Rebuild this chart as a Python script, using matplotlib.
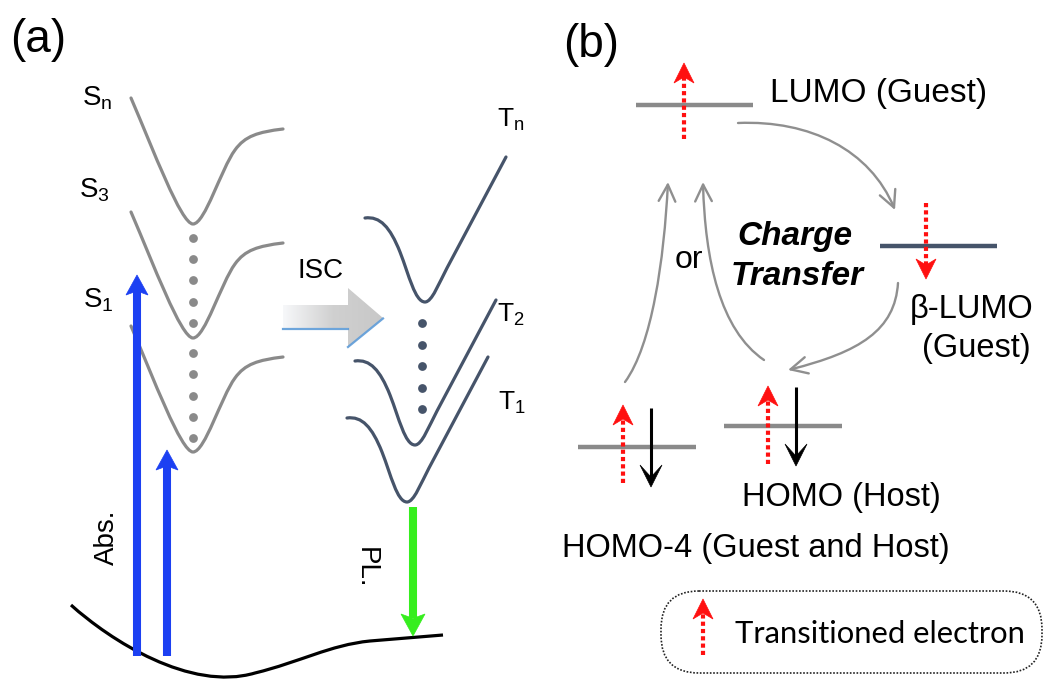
import matplotlib.pyplot as plt
from matplotlib.path import Path
from matplotlib.patches import PathPatch, Polygon, FancyArrowPatch, FancyBboxPatch
from matplotlib.colors import LinearSegmentedColormap
import numpy as np

plt.rcParams['font.family'] = ['Liberation Sans', 'DejaVu Sans']
plt.rcParams['mathtext.fontset'] = 'custom'
plt.rcParams['mathtext.rm'] = 'Liberation Sans'
plt.rcParams['mathtext.it'] = 'Liberation Sans:italic'

# ---- panel (a): excited-state wells (canvas pixel units, y downwards)
singlet_labels = [r'$\mathregular{S_n}$', r'$\mathregular{S_3}$', r'$\mathregular{S_1}$']
singlet_label_xy = [(82, 106), (79, 198), (83, 308)]
singlet_min = [(193, 224), (193, 338), (193, 452)]
singlet_dot_y = [238, 259, 280, 302, 323, 353, 374, 396, 417, 438]

triplet_labels = [r'$\mathregular{T_n}$', r'$\mathregular{T_2}$', r'$\mathregular{T_1}$']
triplet_label_xy = [(497, 127), (497, 322), (498, 410)]
triplet_min = [(425, 302), (415, 445), (407, 502)]
triplet_dot_y = [323, 345, 366, 388, 409]

abs_x = [137, 167]
abs_tip = [275, 450]
abs_tail = [656, 656]
pl_x, pl_top, pl_tip = 413, 507, 636

# ---- panel (b): orbital levels (x0, x1, y)
lumo = (636, 753, 105)
beta_lumo = (880, 997, 246)
homo4 = (578, 696, 447)
homo = (724, 842, 426)

# transitioned electrons (x, tail, tip) and paired electrons (x, tail, tip)
red_spins = [(684, 139, 63), (926, 203, 279), (623, 483, 405), (768, 464, 386)]
black_spins = [(651, 408, 487), (796, 387, 466)]

GRAY = '#8a8a8a'
SLATE = '#46546a'

# well shapes relative to the minimum, cubic bezier control points
S_SHAPE = [(-62, -126), (-40, -75), (-12, 0), (0, 0), (12, 0), (28, -55), (42, -74),
           (52, -88), (65, -92), (90, -95)]
S_CODES = [Path.MOVETO] + [Path.CURVE4] * 9
T_SHAPE = [(-60, -84), (-45, -86), (-35, -75), (-25, -50), (-16, -27), (-10, 0), (0, 0),
           (7, 0), (14, -19), (22, -34), (81, -145)]
T_CODES = [Path.MOVETO] + [Path.CURVE4] * 9 + [Path.LINETO]


def well(ax, mx, my, shape, codes, color):
    verts = [(mx + dx, my + dy) for dx, dy in shape]
    ax.add_patch(PathPatch(Path(verts, codes), fill=False, ec=color, lw=2.3,
                           capstyle='round', joinstyle='round'))


def arrow(ax, x, tail, tip, color, lw, head_w, head_l, notch, ls='-'):
    sgn = 1 if tail > tip else -1
    back = tip + sgn * head_l
    notch_y = tip + sgn * head_l * (1 - notch)
    if ls == '-':
        ax.plot([x, x], [tail, notch_y], color=color, lw=lw, solid_capstyle='butt')
    else:
        ax.plot([x, x], [tail, notch_y], color=color, lw=lw, ls=ls, dash_capstyle='butt')
    ax.add_patch(Polygon([(x, tip), (x - head_w / 2, back), (x, notch_y), (x + head_w / 2, back)],
                         closed=True, fc=color, ec=color, lw=0.5))


def red_arrow(ax, x, tail, tip):
    arrow(ax, x, tail, tip, '#ff1010', 3.0, 20, 20, 0.3, ls=(0, (1.0, 0.75)))


def curved(ax, verts):
    codes = [Path.MOVETO, Path.CURVE4, Path.CURVE4, Path.CURVE4]
    ax.add_patch(FancyArrowPatch(path=Path(verts, codes), arrowstyle='->,head_length=1.2,head_width=0.6',
                                 mutation_scale=10, color='#8f8f8f', lw=1.7, shrinkA=0, shrinkB=0))


fig = plt.figure(figsize=(10.45, 6.79), dpi=100)
ax = fig.add_axes([0, 0, 1, 1])

# panel (a)
ax.text(10, 40, '(a)', fontsize=33, va='center', ha='left')
for (mx, my), lab, (lx, ly) in zip(singlet_min, singlet_labels, singlet_label_xy):
    well(ax, mx, my, S_SHAPE, S_CODES, GRAY)
    ax.text(lx, ly, lab, fontsize=20, ha='left', va='baseline')
ax.scatter([singlet_min[0][0]] * len(singlet_dot_y), singlet_dot_y, s=40, color=GRAY, lw=0, zorder=3)

for (mx, my), lab, (lx, ly) in zip(triplet_min, triplet_labels, triplet_label_xy):
    well(ax, mx, my, T_SHAPE, T_CODES, SLATE)
    ax.text(lx, ly, lab, fontsize=19, ha='left', va='baseline')
ax.scatter([422] * len(triplet_dot_y), triplet_dot_y, s=40, color=SLATE, lw=0, zorder=3)

# ground state
ground = Path([(71, 605), (110, 640), (190, 692), (255, 673), (300, 662), (330, 645), (370, 641), (443, 635)],
              [Path.MOVETO] + [Path.CURVE4] * 6 + [Path.LINETO])
ax.add_patch(PathPatch(ground, fill=False, ec='black', lw=2.3))

for x, tail, tip in zip(abs_x, abs_tail, abs_tip):
    arrow(ax, x, tail, tip, '#1c40f2', 5.8, 22, 20, 0.2)
ax.text(107, 537, 'Abs.', fontsize=20, rotation=90, ha='center', va='center')

arrow(ax, pl_x, pl_top, pl_tip, '#36ee1e', 5.8, 24, 22, 0.2)
ax.text(366, 568, 'PL.', fontsize=20, rotation=-90, ha='center', va='center')

# intersystem crossing block arrow with gradient fill
isc = [(283, 305), (348, 305), (348, 288), (383, 318), (348, 347), (348, 328), (283, 328)]
isc_patch = Polygon(isc, closed=True, fc='none', ec='none')
ax.add_patch(isc_patch)
grad = np.linspace(0, 1, 256).reshape(1, -1)
cmap = LinearSegmentedColormap.from_list('isc', ['#f7f8fa', '#d0d0d0', '#c8c8c8'])
img = ax.imshow(grad, extent=(283, 383, 347, 288), cmap=cmap, aspect='auto', zorder=2)
img.set_clip_path(isc_patch)
ax.plot([283, 348], [328.5, 328.5], color='#5d9bd8', lw=1.6, alpha=0.9, zorder=3)
ax.plot([348, 383], [347, 318.5], color='#5d9bd8', lw=1.6, alpha=0.9, zorder=3)
ax.text(297, 278, 'ISC', fontsize=20, ha='left', va='baseline')

# panel (b)
ax.text(563, 45, '(b)', fontsize=33, va='center', ha='left')
for (x0, x1, y), c in [(lumo, GRAY), (beta_lumo, SLATE), (homo4, GRAY), (homo, GRAY)]:
    ax.plot([x0, x1], [y, y], color=c, lw=3.2, solid_capstyle='butt', zorder=1)

for x, tail, tip in red_spins:
    red_arrow(ax, x, tail, tip)
for x, tail, tip in black_spins:
    arrow(ax, x, tail, tip, 'black', 2.2, 22, 22, 0.55)

curved(ax, [(738, 123), (810, 120), (870, 150), (895, 210)])
curved(ax, [(898, 283), (895, 330), (860, 352), (788, 370)])
curved(ax, [(625, 382), (652, 345), (664, 260), (668, 182)])
curved(ax, [(764, 360), (720, 330), (705, 260), (703, 182)])

ax.text(770, 102, 'LUMO (Guest)', fontsize=24, ha='left', va='baseline')
ax.text(910, 318, 'β-LUMO', fontsize=23.5, ha='left', va='baseline')
ax.text(922, 357, '(Guest)', fontsize=23.5, ha='left', va='baseline')
ax.text(742, 506, 'HOMO (Host)', fontsize=23.5, ha='left', va='baseline')
ax.text(562, 557, 'HOMO-4 (Guest and Host)', fontsize=23.5, ha='left', va='baseline')
ax.text(675, 268, 'or', fontsize=23, ha='left', va='baseline')
ax.text(795, 245, 'Charge', fontsize=24, ha='center', va='baseline', weight='bold', style='italic')
ax.text(797, 285, 'Transfer', fontsize=24, ha='center', va='baseline', weight='bold', style='italic')

# legend box
ax.add_patch(FancyBboxPatch((661, 591), 381, 82, boxstyle='round,pad=0,rounding_size=38',
                            fc='none', ec='#222222', lw=1.2, ls=(0, (1, 1))))
red_arrow(ax, 703, 655, 599)
ax.text(735, 643, 'Transitioned electron', fontsize=22.3, family=['Lato', 'DejaVu Sans'],
        ha='left', va='baseline')

ax.set_xlim(0, 1045)
ax.set_ylim(679, 0)
ax.axis('off')
fig.savefig('out.png', dpi=100)
